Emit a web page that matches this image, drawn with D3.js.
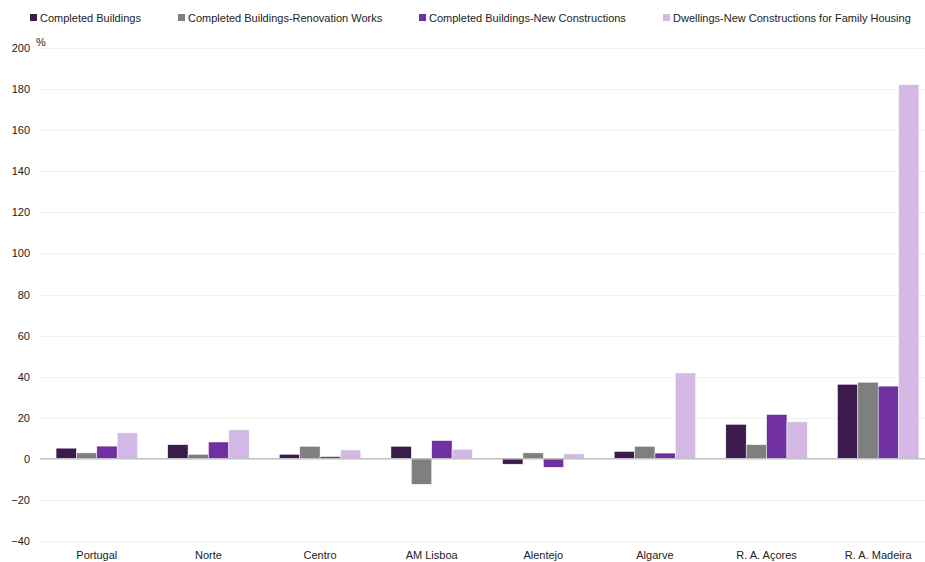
<!DOCTYPE html>
<html>
<head>
<meta charset="utf-8">
<script src="https://cdn.jsdelivr.net/npm/d3@7"></script>
<style>
  body { margin: 0; background: #fff; }
  text { font-family: "Liberation Sans", Arial, sans-serif; fill: #222; }
</style>
</head>
<body>
<svg width="925" height="562"></svg>
<script>
// regions on the x axis
var regions = ["Portugal", "Norte", "Centro", "AM Lisboa", "Alentejo", "Algarve", "R. A. Açores", "R. A. Madeira"];

var seriesNames = ["Completed Buildings", "Completed Buildings-Renovation Works",
                   "Completed Buildings-New Constructions", "Dwellings-New Constructions for Family Housing"];

// values (%)
var completed     = [5.2, 6.9, 2.2, 6.1, -2.6, 3.6, 16.8, 36.3];
var renovation    = [2.9, 2.2, 6.1, -12.4, 2.9, 6.1, 6.9, 37.3];
var newConstr     = [6.2, 8.2, 1.1, 8.9, -4.1, 2.8, 21.6, 35.4];
var dwellings     = [12.7, 14.1, 4.3, 4.7, 2.4, 41.8, 18.0, 182.1];

var yTicks = [-40, -20, 0, 20, 40, 60, 80, 100, 120, 140, 160, 180, 200];

var colors = ["#3a1b4c", "#7f7f7f", "#7030a0", "#d4b8e6"];

var allSeries = [completed, renovation, newConstr, dwellings];

var svg = d3.select("svg");

var x0 = d3.scaleBand()
    .domain(regions)
    .range([41, 934])
    .paddingInner(0.27)
    .paddingOuter(0.135);

var x1 = d3.scaleBand()
    .domain(d3.range(4))
    .range([0, x0.bandwidth()]);

var y = d3.scaleLinear()
    .domain([-40, 200])
    .range([541, 48]);

// grid
svg.append("g")
   .selectAll("line")
   .data(yTicks.filter(function (d) { return d != 0; }))
   .enter().append("line")
   .attr("x1", 40)
   .attr("x2", 925)
   .attr("y1", function (d) { return Math.round(y(d)) + 0.5; })
   .attr("y2", function (d) { return Math.round(y(d)) + 0.5; })
   .attr("stroke", "#efefef")
   .attr("stroke-width", 1);

// y labels
var yAxis = d3.axisLeft(y).tickValues(yTicks).tickSize(0).tickPadding(0);
var ya = svg.append("g")
   .attr("transform", "translate(30,0)")
   .call(yAxis);
ya.select(".domain").remove();
ya.selectAll("text")
  .style("font-family", "Liberation Sans, Arial, sans-serif")
  .style("font-size", "11px")
  .attr("fill", "#222");

svg.append("text")
   .attr("x", 36)
   .attr("y", 46)
   .style("font-size", "11px")
   .text("%");

// bars
var groups = svg.append("g")
   .selectAll("g")
   .data(regions)
   .enter().append("g")
   .attr("transform", function (d) { return "translate(" + x0(d) + ",0)"; });

groups.selectAll("rect")
   .data(function (d, i) {
       return allSeries.map(function (s, k) { return { k: k, v: s[i] }; });
   })
   .enter().append("rect")
   .attr("x", function (d) { return x1(d.k); })
   .attr("width", x1.bandwidth())
   .attr("y", function (d) { return y(Math.max(0, d.v)); })
   .attr("height", function (d) { return Math.abs(y(d.v) - y(0)); })
   .attr("fill", function (d) { return colors[d.k]; })
   .attr("stroke", "#fff")
   .attr("stroke-width", 0.5);

// zero line
svg.append("line")
   .attr("x1", 40)
   .attr("x2", 925)
   .attr("y1", y(0))
   .attr("y2", y(0))
   .attr("stroke", "#bfbfbf")
   .attr("stroke-width", 1.5);

// x labels
svg.append("g")
   .selectAll("text")
   .data(regions)
   .enter().append("text")
   .attr("x", function (d) { return x0(d) + x0.bandwidth() / 2; })
   .attr("y", 559)
   .attr("text-anchor", "middle")
   .style("font-size", "11px")
   .text(function (d) { return d; });

// legend
var legendX = [30, 178, 419, 663];
var legend = svg.append("g")
   .selectAll("g")
   .data(seriesNames)
   .enter().append("g")
   .attr("transform", function (d, i) { return "translate(" + legendX[i] + ",14)"; });

legend.append("rect")
   .attr("width", 7)
   .attr("height", 7)
   .attr("fill", function (d, i) { return colors[i]; });

legend.append("text")
   .attr("x", 10)
   .attr("y", 7.5)
   .style("font-size", "11px")
   .text(function (d) { return d; });
</script>
</body>
</html>
